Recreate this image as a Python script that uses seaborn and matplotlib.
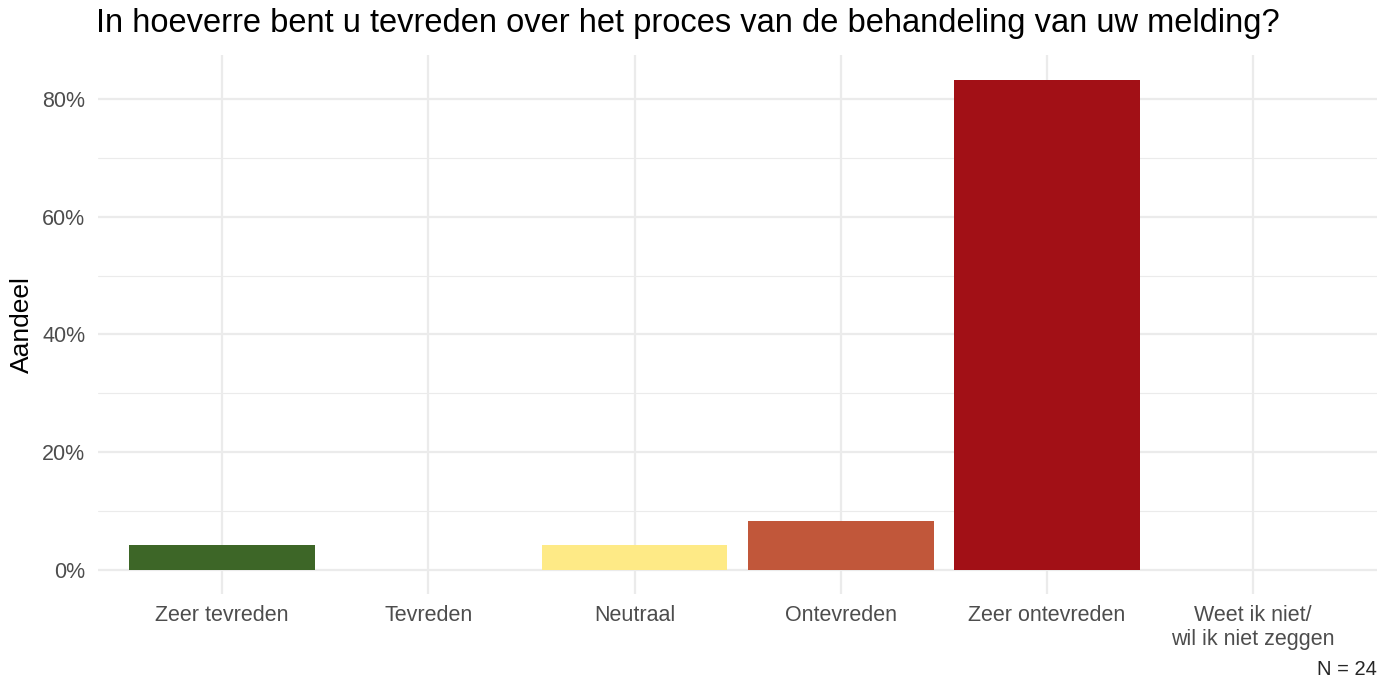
import pandas as pd
import matplotlib.pyplot as plt
import seaborn as sns
from matplotlib.ticker import PercentFormatter, MultipleLocator

categories = ['Zeer tevreden', 'Tevreden', 'Neutraal', 'Ontevreden',
              'Zeer ontevreden', 'Weet ik niet/\nwil ik niet zeggen']
counts = [1, 0, 1, 2, 20, 0]
colors = ['#3d6627', '#8fb36b', '#feea86', '#c1573a', '#a21016', '#bdbdbd']
n_total = 24

df = pd.DataFrame({'Antwoord': categories,
                   'Aandeel': [c / n_total * 100 for c in counts]})
df['Antwoord'] = pd.Categorical(df['Antwoord'], categories=categories, ordered=True)

sns.set_theme(style='white')
plt.rcParams['font.family'] = ['Liberation Sans', 'DejaVu Sans']

fig = plt.figure(figsize=(13.89, 6.82), dpi=100)
ax = fig.add_axes([0.0708, 0.129, 0.9205, 0.790])

sns.barplot(data=df, x='Antwoord', y='Aandeel', hue='Antwoord',
            palette=dict(zip(categories, colors)), width=0.9,
            legend=False, saturation=1, linewidth=0, ax=ax, zorder=3)

# ggplot-like limits
ax.set_xlim(-0.6, len(categories) - 0.4)
ymax = max(df['Aandeel'])
ax.set_ylim(-0.05 * ymax, ymax * 1.05)

ax.yaxis.set_major_locator(MultipleLocator(20))
ax.yaxis.set_minor_locator(MultipleLocator(10))
ax.yaxis.set_major_formatter(PercentFormatter(decimals=0))

ax.grid(True, which='major', axis='both', color='#ebebeb', linewidth=1.6, zorder=0)
ax.grid(True, which='minor', axis='y', color='#ebebeb', linewidth=0.8, zorder=0)
ax.set_axisbelow(True)
for s in ax.spines.values():
    s.set_visible(False)

ax.tick_params(axis='both', which='both', length=0, labelsize=15.5,
               labelcolor='#4d4d4d', pad=8)
ax.tick_params(axis='y', pad=9.5)

ax.set_xlabel('')
ax.set_ylabel('Aandeel', fontsize=19, color='black', labelpad=6)
ax.set_title('In hoeverre bent u tevreden over het proces van de behandeling van uw melding?',
             fontsize=23.5, loc='left', x=-0.0015, pad=16.5, color='black')
fig.text(0.991, 0.005, f'N = {n_total}', ha='right', va='bottom', fontsize=14.5)

plt.savefig('out.png', dpi=100)
